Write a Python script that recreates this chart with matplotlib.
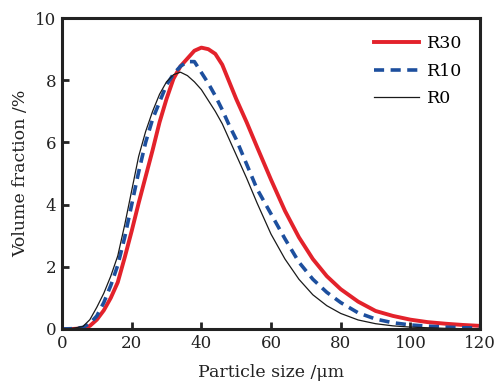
import matplotlib
matplotlib.use("Agg")
import matplotlib.pyplot as plt

# particle size (um) and volume fraction (%)
size = [0, 3, 6, 8, 10, 12, 14, 16, 18, 20, 22, 24, 26, 28, 30, 32, 34, 36, 38, 40,
        42, 44, 46, 48, 50, 53, 56, 60, 64, 68, 72, 76, 80, 85, 90, 95, 100, 105,
        110, 115, 120]
r30 = [0, 0, 0.02, 0.1, 0.3, 0.6, 1.0, 1.5, 2.3, 3.15, 4.05, 4.9, 5.75, 6.65, 7.4,
       8.05, 8.45, 8.7, 8.95, 9.05, 9.0, 8.85, 8.5, 7.95, 7.4, 6.65, 5.85, 4.8, 3.8,
       2.95, 2.25, 1.7, 1.28, 0.88, 0.58, 0.42, 0.3, 0.22, 0.17, 0.13, 0.1]
r10 = [0, 0.01, 0.05, 0.18, 0.42, 0.85, 1.4, 2.05, 2.95, 4.0, 5.05, 6.0, 6.75, 7.3,
       7.85, 8.2, 8.45, 8.6, 8.6, 8.25, 7.9, 7.5, 7.05, 6.55, 6.1, 5.3, 4.5, 3.7,
       2.9, 2.15, 1.6, 1.18, 0.85, 0.52, 0.32, 0.2, 0.13, 0.09, 0.06, 0.04, 0.03]
r0 = [0, 0.02, 0.08, 0.3, 0.7, 1.15, 1.7, 2.35, 3.35, 4.45, 5.55, 6.35, 7.0, 7.55,
      7.95, 8.18, 8.26, 8.15, 7.95, 7.7, 7.35, 7.0, 6.6, 6.1, 5.6, 4.85, 4.05, 3.05,
      2.25, 1.6, 1.1, 0.75, 0.5, 0.29, 0.17, 0.1, 0.06, 0.04, 0.02, 0.01, 0.01]

plt.rcParams['font.family'] = ['DejaVu Serif']

fig = plt.figure(figsize=(4.98, 3.85), dpi=100)
ax = fig.add_axes([0.1245, 0.1455, 0.8395, 0.8075])

ax.plot(size, r30, color="#e3222b", lw=2.8, label="R30")
ax.plot(size, r10, color="#1d4f9e", lw=2.6, ls=(0, (2.8, 1.8)), label="R10")
ax.plot(size, r0, color="#1a1a1a", lw=0.9, label="R0")

ax.set_xlim(0, 120)
ax.set_ylim(0, 10)
ax.set_xticks(range(0, 121, 20))
ax.set_yticks(range(0, 11, 2))
ax.tick_params(direction="in", length=5, width=2, labelsize=12, pad=4,
               colors="#222222")
for sp in ax.spines.values():
    sp.set_linewidth(2.2)
    sp.set_color("#222222")

ax.set_xlabel("Particle size /μm", fontsize=12.5, labelpad=9, color="#222222")
ax.set_ylabel("Volume fraction /%", fontsize=12.5, labelpad=4, color="#222222")

ax.legend(loc="upper right", frameon=False, fontsize=12.5, handlelength=2.6,
          handletextpad=0.5, labelspacing=0.6, borderaxespad=0.6)

fig.savefig("out.png", dpi=100)
